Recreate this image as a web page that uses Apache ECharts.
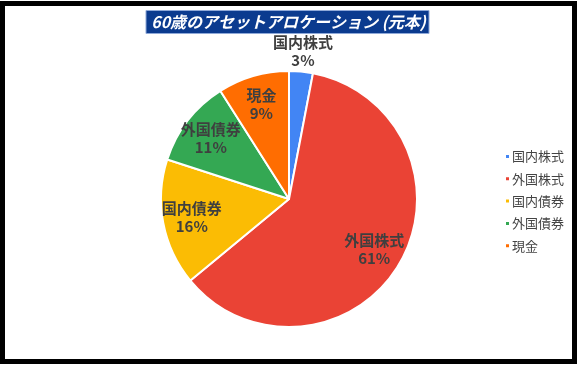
<!DOCTYPE html>
<html><head><meta charset="utf-8">
<script src="https://cdn.jsdelivr.net/npm/echarts@6/dist/echarts.min.js"></script>
<style>html,body{margin:0;padding:0;background:#fff}#c{width:577px;height:365px}</style>
</head><body><div id="c"></div>
<script>
const titleText = '60歳のアセットアロケーション (元本)';
const categories = ['国内株式', '外国株式', '国内債券', '外国債券', '現金'];
const values = [3, 61, 16, 11, 9];
const colors = ['#4285F4', '#EA4335', '#FBBC04', '#34A853', '#FF6D01'];
const outsideLabelIdx = [0];

const chart = echarts.init(document.getElementById('c'));
const center = [289, 199];
const R = 128;
const labelFont = { fontFamily: 'Noto Sans CJK JP', fontWeight: 'bold', fontSize: 15, color: '#3f3f3f', lineHeight: 18 };

function labelData(showOutside) {
  return categories.map((n, i) => {
    const isOut = outsideLabelIdx.includes(i);
    return { name: n, value: values[i], label: { show: showOutside ? isOut : !isOut } };
  });
}
const ghost = {
  type: 'pie', center: center, silent: true, clockwise: true, startAngle: 90,
  itemStyle: { color: 'rgba(0,0,0,0)', borderWidth: 0 },
  labelLine: { show: false },
  emphasis: { disabled: true },
  tooltip: { show: false },
  label: Object.assign({ position: 'inside', formatter: '{b}\n{c}%' }, labelFont)
};

chart.setOption({
  animation: false,
  title: {
    text: titleText, left: 'center', top: 10,
    backgroundColor: '#0b3b8f', borderColor: '#8fa9d8', borderWidth: 1,
    padding: [2, 3, 2, 5],
    textStyle: { color: '#fff', fontStyle: 'italic', fontWeight: 'bold', fontSize: 16, lineHeight: 20, fontFamily: 'Noto Sans CJK JP' }
  },
  color: colors,
  legend: {
    orient: 'vertical', left: 499, top: 145, data: categories,
    icon: 'rect', itemWidth: 5, itemHeight: 5, itemGap: 9.3,
    textStyle: { fontSize: 13, color: '#444', fontFamily: 'Noto Sans CJK JP', padding: [0, 0, 0, -3] }
  },
  graphic: [{
    type: 'rect', shape: { x: 2.5, y: 3.5, width: 572, height: 358 },
    style: { fill: 'none', stroke: '#000', lineWidth: 5 }, silent: true
  }],
  series: [
    {
      type: 'pie', center: center, radius: [0, R], startAngle: 90, clockwise: true,
      data: categories.map((n, i) => ({ name: n, value: values[i] })),
      itemStyle: { borderColor: '#fff', borderWidth: 2 },
      label: { show: false }, labelLine: { show: false },
      emphasis: { disabled: true }
    },
    Object.assign({}, ghost, { radius: [64, R], data: labelData(false) }),
    Object.assign({}, ghost, { radius: [R, 162], data: labelData(true) })
  ]
});
</script></body></html>
